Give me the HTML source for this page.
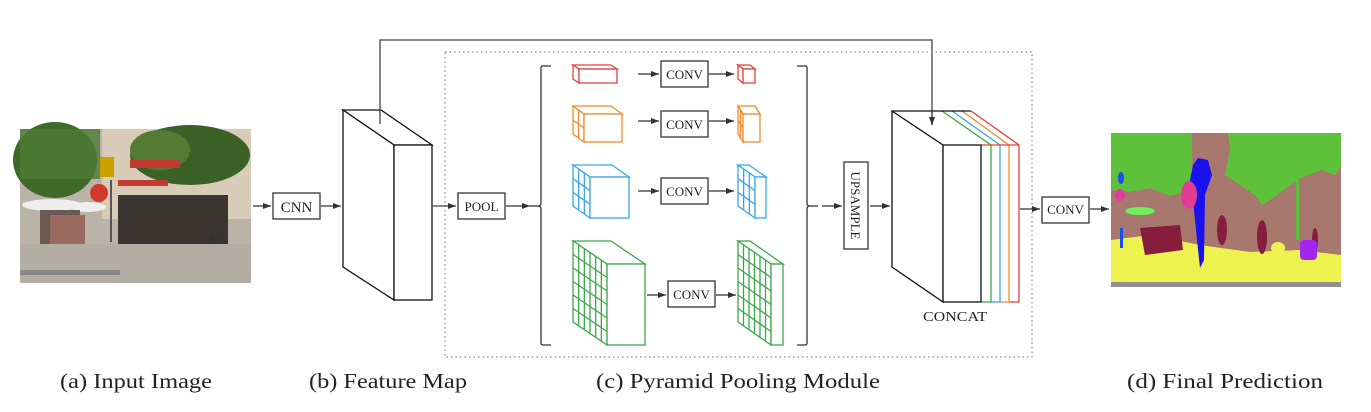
<!DOCTYPE html>
<html><head><meta charset="utf-8"><style>
html,body{margin:0;padding:0;background:#fff;width:1371px;height:412px;overflow:hidden}
svg{display:block}
text{font-family:"Liberation Serif",serif;fill:#222}
</style></head><body>
<svg id="s" width="1371" height="412" viewBox="0 0 1371 412" xmlns="http://www.w3.org/2000/svg">
<defs>
<marker id="ah" markerWidth="8" markerHeight="6" refX="8" refY="3" orient="auto" markerUnits="userSpaceOnUse">
<path d="M0,0 L8,3 L0,6 Z" fill="#333"/></marker>
</defs>

<!-- (a) input image approximation -->
<g>
<rect x="20" y="129" width="231" height="154" fill="#b9b3a8"/>
<rect x="102" y="129" width="149" height="90" fill="#d8cbb8"/>
<rect x="118" y="195" width="110" height="50" fill="#3a3530"/>
<ellipse cx="55" cy="160" rx="42" ry="38" fill="#3f6a2a"/>
<ellipse cx="190" cy="155" rx="60" ry="30" fill="#3b6127"/>
<ellipse cx="160" cy="150" rx="30" ry="20" fill="#557a33"/>
<rect x="20" y="129" width="80" height="50" fill="#4d7a35" opacity="0.8"/>
<rect x="130" y="160" width="50" height="8" fill="#c23a30"/>
<rect x="118" y="180" width="50" height="6" fill="#c23a30"/>
<ellipse cx="52" cy="205" rx="30" ry="6" fill="#eee"/>
<ellipse cx="88" cy="207" rx="18" ry="5" fill="#eee"/>
<rect x="40" y="210" width="40" height="35" fill="#6a5a50"/>
<rect x="50" y="215" width="35" height="30" fill="#9a6a60"/>
<circle cx="99" cy="193" r="9" fill="#d0392b"/>
<rect x="100" y="157" width="14" height="20" fill="#c9a100"/>
<rect x="110" y="180" width="2" height="62" fill="#555"/>
<rect x="210" y="235" width="8" height="20" fill="#333"/>
<rect x="20" y="244" width="231" height="39" fill="#b3ada3"/>
<rect x="20" y="270" width="100" height="5" fill="#888"/>
</g>

<!-- CNN -->
<line x1="253" y1="206" x2="271" y2="206" stroke="#333" stroke-width="1.3" marker-end="url(#ah)"/>
<rect x="273" y="193" width="47" height="26" fill="#fff" stroke="#333" stroke-width="1.3"/>
<text x="296.5" y="212" font-size="15" text-anchor="middle">CNN</text>
<line x1="321" y1="206" x2="341" y2="206" stroke="#333" stroke-width="1.3" marker-end="url(#ah)"/>

<!-- feature map -->
<g fill="#fff" stroke="#111" stroke-width="1.3">
<path d="M343,110 L381,110 L432,145 L394,145 Z"/>
<path d="M343,110 L394,145 L394,300 L343,267 Z"/>
<rect x="394" y="145" width="38" height="155"/>
</g>
<path d="M380,124 L380,40 L932,40 L932,125" fill="none" stroke="#444" stroke-width="1.3" marker-end="url(#ah)"/>

<rect x="445" y="52" width="587" height="305" fill="none" stroke="#888" stroke-width="1.2" stroke-dasharray="1.5 3"/>

<line x1="433" y1="206" x2="456" y2="206" stroke="#444" stroke-width="1.3" marker-end="url(#ah)"/>
<rect x="458" y="193" width="47" height="26" fill="#fff" stroke="#333" stroke-width="1.3"/>
<text x="481.5" y="211" font-size="13" text-anchor="middle">POOL</text>
<line x1="506" y1="206" x2="530" y2="206" stroke="#333" stroke-width="1.3" marker-end="url(#ah)"/>
<line x1="530" y1="206" x2="540" y2="206" stroke="#333" stroke-width="1.3"/>

<path d="M551,66 L543,66 Q541,66 541,68 L541,203 Q541,206 538,206 Q541,206 541,209 L541,343 Q541,345 543,345 L551,345" fill="none" stroke="#333" stroke-width="1.3"/>
<path d="M797,66 L805,66 Q807,66 807,68 L807,203 Q807,206 810,206 Q807,206 807,209 L807,343 Q807,345 805,345 L797,345" fill="none" stroke="#333" stroke-width="1.3"/>
<line x1="810" y1="206" x2="818" y2="206" stroke="#333" stroke-width="1.3"/>
<line x1="822" y1="206" x2="842" y2="206" stroke="#333" stroke-width="1.3" marker-end="url(#ah)"/>

<g id="cubes"></g>

<g stroke="#333" stroke-width="1.3" fill="#fff">
<line x1="638" y1="74" x2="659" y2="74" marker-end="url(#ah)"/>
<rect x="661" y="61" width="47" height="26"/>
<line x1="709" y1="74" x2="734" y2="74" marker-end="url(#ah)"/>
<line x1="638" y1="121" x2="659" y2="121" marker-end="url(#ah)"/>
<rect x="661" y="111" width="47" height="26"/>
<line x1="709" y1="121" x2="734" y2="121" marker-end="url(#ah)"/>
<line x1="638" y1="191" x2="659" y2="191" marker-end="url(#ah)"/>
<rect x="661" y="178" width="47" height="26"/>
<line x1="709" y1="191" x2="734" y2="191" marker-end="url(#ah)"/>
<line x1="647" y1="295" x2="666" y2="295" marker-end="url(#ah)"/>
<rect x="668" y="281" width="47" height="26"/>
<line x1="716" y1="295" x2="736" y2="295" marker-end="url(#ah)"/>
</g>
<g font-size="13" text-anchor="middle">
<text x="684.5" y="79">CONV</text>
<text x="684.5" y="129">CONV</text>
<text x="684.5" y="196">CONV</text>
<text x="691.5" y="299">CONV</text>
</g>

<rect x="844" y="162" width="24" height="87" fill="#fff" stroke="#333" stroke-width="1.3"/>
<text transform="translate(851,205.5) rotate(90)" font-size="13" text-anchor="middle">UPSAMPLE</text>
<line x1="870" y1="206" x2="890" y2="206" stroke="#333" stroke-width="1.3" marker-end="url(#ah)"/>

<g fill="none" stroke-width="1.3">
<path d="M971,111 L1019,145 L1019,302 L1009,302" stroke="#e0413a"/>
<path d="M962,111 L1009,145 L1009,302 L1000,302" stroke="#ef8a2e"/>
<path d="M952,111 L1000,145 L1000,302 L991,302" stroke="#3aa6e8"/>
<path d="M942,111 L991,145 L991,302 L981,302" stroke="#3ca84a"/>
<path d="M892,111 L971,111" stroke="#111"/>
<line x1="981" y1="145" x2="1019" y2="145" stroke="#e0413a"/>
</g>
<g fill="#fff" stroke="#111" stroke-width="1.3">
<path d="M892,111 L943,145 L943,302 L892,267 Z"/>
<rect x="943" y="145" width="38" height="157"/>
</g>
<line x1="932" y1="111" x2="932" y2="125" stroke="#444" stroke-width="1.3" marker-end="url(#ah)"/>
<text x="955" y="321" font-size="14" text-anchor="middle" textLength="64" lengthAdjust="spacingAndGlyphs">CONCAT</text>

<line x1="1020" y1="209" x2="1040" y2="209" stroke="#333" stroke-width="1.3" marker-end="url(#ah)"/>
<rect x="1042" y="197" width="47" height="26" fill="#fff" stroke="#333" stroke-width="1.3"/>
<text x="1065.5" y="214" font-size="13" text-anchor="middle">CONV</text>
<line x1="1090" y1="209" x2="1109" y2="209" stroke="#333" stroke-width="1.3" marker-end="url(#ah)"/>

<g>
<rect x="1111" y="133" width="230" height="154" fill="#a8786f"/>
<path d="M1111,133 L1192,133 L1192,190 L1170,196 L1150,188 L1130,192 L1111,190 Z" fill="#5dc23a"/>
<path d="M1228,133 L1341,133 L1341,166 L1335,175 L1322,170 L1300,178 L1270,200 L1262,205 L1255,195 L1240,185 L1225,175 L1230,150 Z" fill="#5dc23a"/>
<rect x="1296" y="180" width="3" height="60" fill="#5dc23a"/>
<path d="M1111,240 L1150,235 L1200,245 L1250,252 L1300,250 L1341,255 L1341,283 L1111,283 Z" fill="#eef24e"/>
<rect x="1111" y="282" width="230" height="5" fill="#8f8f8f"/>
<path d="M1193,165 L1198,158 L1208,160 L1212,175 L1205,195 L1204,260 L1200,268 L1197,240 L1193,200 L1190,180 Z" fill="#1a12ee"/>
<ellipse cx="1189" cy="195" rx="8" ry="14" fill="#e23c97"/>
<ellipse cx="1120" cy="195" rx="5" ry="6" fill="#e23c97"/>
<ellipse cx="1121" cy="178" rx="3" ry="6" fill="#1a50ee"/>
<ellipse cx="1140" cy="211" rx="15" ry="4" fill="#6ef05a"/>
<rect x="1120" y="228" width="3" height="20" fill="#1a50ee"/>
<path d="M1140,228 L1180,225 L1183,250 L1145,255 Z" fill="#861d3c"/>
<ellipse cx="1222" cy="230" rx="5" ry="15" fill="#861d3c"/>
<ellipse cx="1262" cy="237" rx="5" ry="17" fill="#861d3c"/>
<ellipse cx="1315" cy="240" rx="3" ry="12" fill="#861d3c"/>
<rect x="1300" y="240" width="17" height="20" rx="4" fill="#a126ee"/>
<ellipse cx="1278" cy="248" rx="7" ry="6" fill="#eef24e"/>
</g>

<g font-size="21" lengthAdjust="spacingAndGlyphs">
<text x="60" y="388" textLength="152" lengthAdjust="spacingAndGlyphs">(a) Input Image</text>
<text x="309" y="388" textLength="158" lengthAdjust="spacingAndGlyphs">(b) Feature Map</text>
<text x="596" y="388" textLength="284" lengthAdjust="spacingAndGlyphs">(c) Pyramid Pooling Module</text>
<text x="1127" y="388" textLength="196" lengthAdjust="spacingAndGlyphs">(d) Final Prediction</text>
</g>
</svg>
<script>
(function(){
var g=document.getElementById('cubes'),ns='http://www.w3.org/2000/svg',h='';
function cub(bx,by,fx,fy,fw,fh,n,c){
 var s='';
 s+='<path d="M'+bx+','+by+' L'+(bx+fw)+','+by+' L'+(fx+fw)+','+fy+' L'+fx+','+fy+' Z" fill="#fff" stroke="'+c+'"/>';
 s+='<path d="M'+bx+','+by+' L'+fx+','+fy+' L'+fx+','+(fy+fh)+' L'+bx+','+(by+fh)+' Z" fill="#fff" stroke="'+c+'"/>';
 for(var i=1;i<n;i++){var t=i/n;
  var x=bx+(fx-bx)*t, y=by+(fy-by)*t;
  s+='<line x1="'+x+'" y1="'+y+'" x2="'+x+'" y2="'+(y+fh)+'" stroke="'+c+'"/>';
  s+='<line x1="'+bx+'" y1="'+(by+fh*t)+'" x2="'+fx+'" y2="'+(fy+fh*t)+'" stroke="'+c+'"/>';
 }
 s+='<rect x="'+fx+'" y="'+fy+'" width="'+fw+'" height="'+fh+'" fill="#fff" stroke="'+c+'"/>';
 return s;
}
h+=cub(573,65,579,69,38,14,1,'#e0413a');
h+=cub(738,65,743,69,12,14,1,'#e0413a');
h+=cub(573,106,584,114,38,28,2,'#ef8a2e');
h+=cub(738,106,743,114,17,28,2,'#ef8a2e');
h+=cub(573,165,590,177,39,41,3,'#3aa6e8');
h+=cub(738,165,755,177,11,41,3,'#3aa6e8');
h+=cub(573,241,607,264,38,81,6,'#3ca84a');
h+=cub(738,241,771,264,12,81,6,'#3ca84a');
var tmp=document.createElementNS(ns,'svg');tmp.innerHTML='<g stroke-width="1.3">'+h+'</g>';
while(tmp.firstChild)g.appendChild(tmp.firstChild);
})();
</script>
</body></html>
